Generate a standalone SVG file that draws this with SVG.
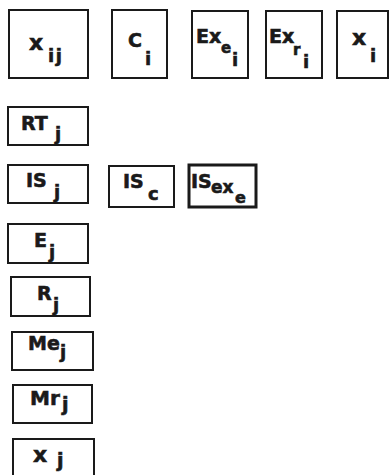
<svg xmlns="http://www.w3.org/2000/svg" width="391" height="475" viewBox="0 0 391 475">
<style>
rect.b{fill:#fff;stroke:#1a1a1a;stroke-width:2}
rect.t{fill:#fff;stroke:#1a1a1a;stroke-width:3}
text{font-family:"DejaVu Sans","Liberation Sans",sans-serif;font-weight:bold;fill:#1a1a1a;stroke:#1a1a1a;stroke-width:0.6}
.x{font-size:22px}
.m{font-size:19px}
.s{font-size:18px}
.ss{font-size:15px}
</style>
<rect width="391" height="475" fill="#fff"/>
<g id="connectors"></g>
<g id="n_xij"><rect class="b" x="9" y="10" width="79" height="68"/><text class="x" x="29" y="50">x</text><text class="s" x="48" y="62" letter-spacing="1.5">ij</text></g>
<g id="n_Ci"><rect class="b" x="112" y="10" width="55" height="68"/><text class="m" x="128" y="47">C</text><text class="s" x="145" y="65">i</text></g>
<g id="n_Exei"><rect class="b" x="192" y="11" width="56" height="67"/><text class="m" x="196" y="43">Ex</text><text class="ss" x="221" y="53">e</text><text class="s" x="232" y="66">i</text></g>
<g id="n_Exri"><rect class="b" x="266" y="11" width="56" height="67"/><text class="m" x="269" y="43" font-size="18">Ex</text><text class="ss" x="293" y="55">r</text><text class="s" x="303" y="68">i</text></g>
<g id="n_Xi"><rect class="b" x="337" y="11" width="51" height="67"/><text class="x" x="352" y="45">x</text><text class="s" x="370" y="62">i</text></g>
<g id="n_RTj"><rect class="b" x="8" y="107" width="80" height="38"/><text class="m" x="21" y="130">RT</text><text class="s" x="55" y="140">j</text></g>
<g id="n_ISj"><rect class="b" x="8" y="165" width="80" height="38"/><text class="m" x="26" y="187">IS</text><text class="s" x="54" y="198">j</text></g>
<g id="n_ISc"><rect class="b" x="109" y="166" width="65" height="41"/><text class="m" x="123" y="188">IS</text><text class="s" x="148" y="200">c</text></g>
<g id="n_ISexe"><rect class="t" x="189" y="165" width="67" height="42"/><text class="m" x="191" y="188">IS</text><text x="211" y="193" font-size="17px">ex</text><text x="235" y="203" font-size="16px">e</text></g>
<g id="n_Ej"><rect class="b" x="8" y="224" width="80" height="39"/><text class="m" x="34" y="247">E</text><text class="s" x="49" y="258">j</text></g>
<g id="n_Rj"><rect class="b" x="11" y="277" width="79" height="39"/><text class="m" x="37" y="300">R</text><text class="s" x="53" y="311">j</text></g>
<g id="n_Mej"><rect class="b" x="12" y="332" width="81" height="38"/><text class="m" x="28" y="350" font-size="18px">Me</text><text class="s" x="60" y="358">j</text></g>
<g id="n_Mrj"><rect class="b" x="13" y="385" width="79" height="38"/><text x="30" y="405" font-size="20px">Mr</text><text x="62" y="411" font-size="19px">j</text></g>
<g id="n_Xj"><rect class="b" x="13" y="439" width="81" height="40"/><text class="x" x="33" y="462">x</text><text x="57" y="467" font-size="19px">j</text></g>
</svg>
